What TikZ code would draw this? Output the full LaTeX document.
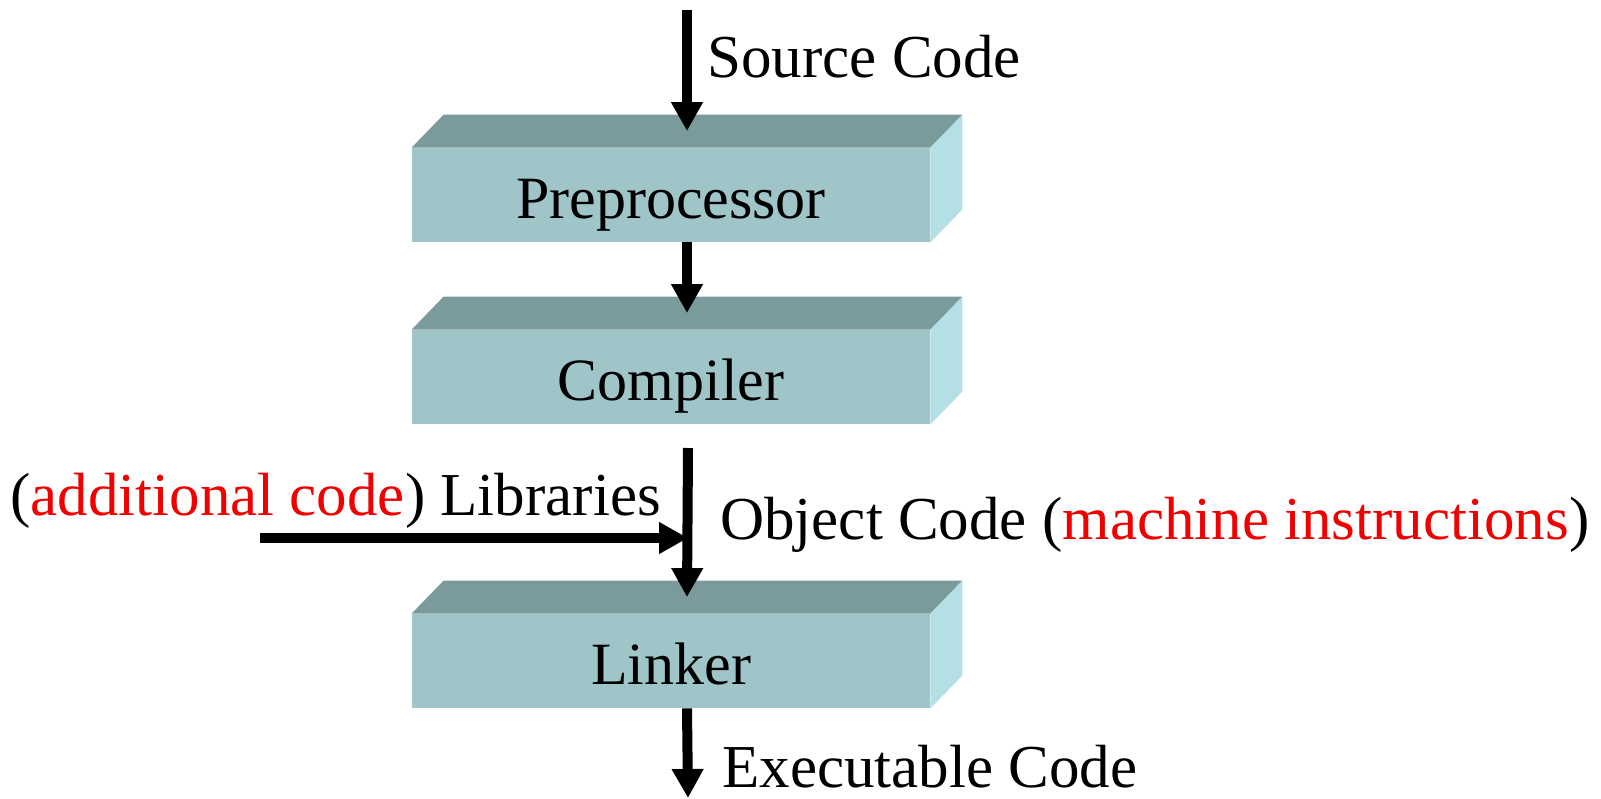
\documentclass[tikz,border=0pt]{standalone}
\usepackage{fontspec}
\setmainfont{Liberation Serif}
\usetikzlibrary{arrows.meta,calc}
\definecolor{frontc}{RGB}{160,197,201}
\definecolor{topc}{RGB}{123,154,155}
\definecolor{sidec}{RGB}{179,223,229}
\definecolor{redtxt}{RGB}{240,0,0}
\begin{document}
\begin{tikzpicture}[x=0.5pt,y=-0.5pt,
  stage/.style={rectangle,draw=none,fill=frontc,minimum width=259pt,inner sep=0pt,
    text height=35pt,text depth=12pt,font=\fontsize{30pt}{36pt}\selectfont},
  lbl/.style={inner sep=0pt,anchor=base west,font=\fontsize{30.5pt}{36pt}\selectfont},
  arr/.style={line width=5pt,-{Triangle[width=15pt,length=14.5pt]}},
  bar/.style={line width=5pt}]
\fill[white] (0,0) rectangle (1601,798);
\useasboundingbox (0,0) rectangle (1601,798);
% boxes
\foreach \nm/\yy/\tx in {pre/195/Preprocessor,comp/377/Compiler,link/661/Linker}{
  \node[stage] (\nm) at (671,\yy) {\tx};
  \fill[topc] (\nm.north west) -- ++(32,-33) -- ($(\nm.north east)+(32,-33)$) -- (\nm.north east) -- cycle;
  \fill[sidec] (\nm.north east) -- ++(32,-33) -- ($(\nm.south east)+(32,-33)$) -- (\nm.south east) -- cycle;
  \coordinate (\nm top) at ($(\nm.north)+(16,-16.5)$);
  \coordinate (\nm bot) at ($(\nm.south)+(16,0)$);
}
% labels
\node[lbl] (src) at (707,77) {Source Code};
\node[lbl] (lib) at (10,515) {(\textcolor{redtxt}{additional code}) Libraries};
\node[lbl] (obj) at (720,539) {Object Code (\textcolor{redtxt}{machine instructions})};
\node[lbl] (exe) at (722,787) {Executable Code};
% coordinates
\coordinate (s0) at (687,10);
\coordinate (o0) at (688,448);
\coordinate (j) at (688,538);
\coordinate (l0) at (260,538);
\coordinate (e1) at (688,798);
% arrows
\draw[arr] (s0) -- (pretop);
\draw[arr] (prebot) -- (comptop);
\draw[arr] (o0) -- (linktop);
\draw[arr] (l0) -- (j);
\draw[arr] (linkbot) -- (e1);
\end{tikzpicture}
\end{document}
